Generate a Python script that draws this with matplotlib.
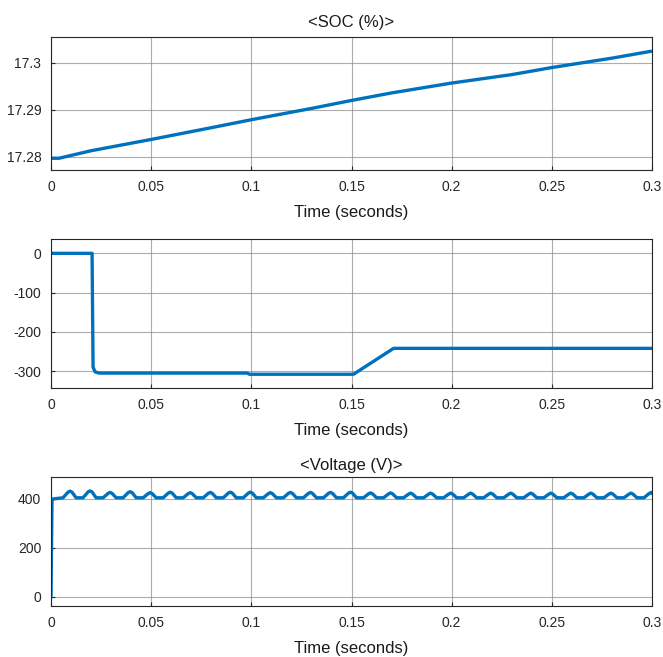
import matplotlib
matplotlib.use("Agg")
import matplotlib.pyplot as plt

plt.rcParams['font.family'] = ['Liberation Sans', 'DejaVu Sans']
plt.rcParams['axes.unicode_minus'] = False

# ---- data ----
soc_t = [0.0, 0.004, 0.02, 0.05, 0.08, 0.1, 0.13, 0.15, 0.17, 0.2, 0.23, 0.25, 0.28, 0.3]
soc_v = [17.2797, 17.2797, 17.2813, 17.2837, 17.2862, 17.2879, 17.2903, 17.2920, 17.2936, 17.2957, 17.2975, 17.2990, 17.3010, 17.3025]

cur_t = [0.0, 0.0205, 0.021, 0.022, 0.024, 0.098, 0.099, 0.151, 0.171, 0.3]
cur_v = [0, 0, -290, -302, -305, -305, -308, -308, -242, -242]

volt_peak_t = [0.0095, 0.0195, 0.0295, 0.0395, 0.0495, 0.0595, 0.0695, 0.0795, 0.0895, 0.0995,
               0.1095, 0.1195, 0.1295, 0.1395, 0.1495, 0.1595, 0.1695, 0.1795, 0.1895, 0.1995,
               0.2095, 0.2195, 0.2295, 0.2395, 0.2495, 0.2595, 0.2695, 0.2795, 0.2895, 0.2995]
volt_peak_v = [432, 433, 427, 430, 426, 428, 426, 427, 428, 428,
               426, 427, 427, 427, 428, 425, 425, 424, 424, 424,
               424, 424, 424, 424, 424, 424, 424, 424, 424, 426]
volt_base_v = 405

xticks = [0, 0.05, 0.1, 0.15, 0.2, 0.25, 0.3]
xticklabels = ['0', '0.05', '0.1', '0.15', '0.2', '0.25', '0.3']

# build voltage trace
vt = [0.0, 0.0005, 0.001, 0.004]
vv = [0, 393, 400, 403]
for pt, pv in zip(volt_peak_t, volt_peak_v):
    vt += [pt - 0.0035, pt - 0.001, pt, pt + 0.001, pt + 0.003]
    vv += [volt_base_v, pv - 4, pv, pv - 4, volt_base_v]
vt.append(0.3)
vv.append(volt_peak_v[-1])

blue = '#0072BD'
W, H = 663, 657
fig = plt.figure(figsize=(W / 100, H / 100), dpi=100)

def mkax(top, bottom, left=51, right=652):
    return fig.add_axes([left / W, 1 - bottom / H, (right - left) / W, (bottom - top) / H])

axes = [mkax(37, 170), mkax(239, 388), mkax(477, 606)]

def style(ax):
    ax.set_xlim(0, 0.3)
    ax.set_xticks(xticks)
    ax.set_xticklabels(xticklabels)
    ax.grid(True, color='#8a8a8a', linewidth=0.8, alpha=0.7)
    ax.tick_params(direction='in', length=3, labelsize=10, colors='#262626', pad=7)
    for s in ax.spines.values():
        s.set_color('#262626')
        s.set_linewidth(0.8)
    ax.set_xlabel('Time (seconds)', fontsize=12, color='#1a1a1a', labelpad=8)

ax = axes[0]
ax.plot(soc_t, soc_v, color=blue, lw=2.4, solid_capstyle='butt')
ax.set_ylim(17.2772, 17.3055)
ax.set_yticks([17.28, 17.29, 17.3])
ax.set_yticklabels(['17.28', '17.29', '17.3'])
style(ax)
ax.set_title('<SOC (%)>', fontsize=12, color='#1a1a1a', pad=7)

ax = axes[1]
ax.plot(cur_t, cur_v, color=blue, lw=2.4)
ax.set_ylim(-343, 36.5)
ax.set_yticks([0, -100, -200, -300])
style(ax)

ax = axes[2]
ax.plot(vt, vv, color=blue, lw=2.4)
ax.set_ylim(-38, 490)
ax.set_yticks([0, 200, 400])
style(ax)
ax.set_title('<Voltage (V)>', fontsize=12, color='#1a1a1a', pad=5)

fig.savefig('out.png', dpi=100)
